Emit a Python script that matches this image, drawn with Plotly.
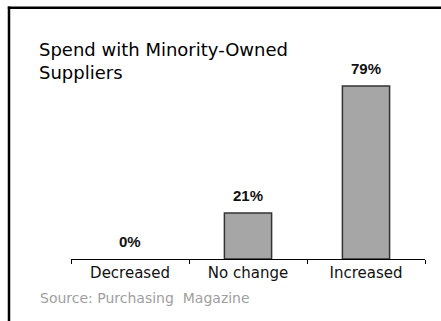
import plotly.graph_objects as go

categories = ["Decreased", "No change", "Increased"]
values = [0, 21, 79]
value_labels = ["0%", "21%", "79%"]
title_text = "Spend with Minority-Owned<br>Suppliers"
source_text = "Source: Purchasing  Magazine"

W, H = 441, 321
ml, mr, mt, mb = 71, 16, 40, 62
PW, PH = W - ml - mr, H - mt - mb


def px_x(x):
    return (x - ml) / PW


def px_y(y):
    return (H - mb - y) / PH


fig = go.Figure(
    go.Bar(
        x=categories,
        y=values,
        marker=dict(
            color="#a6a6a6",
            line=dict(color="#333333", width=[1.5 if v > 0 else 0 for v in values]),
        ),
        width=0.4,
        hoverinfo="x+y",
    )
)

label_annotations = [
    dict(
        x=c, y=v, xref="x", yref="y",
        text="<b>%s</b>" % t,
        showarrow=False,
        xanchor="center", yanchor="bottom",
        yshift=7,
        font=dict(family="Liberation Sans, Arial", size=15, color="#111111"),
    )
    for c, v, t in zip(categories, values, value_labels)
]

fig.update_layout(
    width=W,
    height=H,
    margin=dict(l=ml, r=mr, t=mt, b=mb),
    paper_bgcolor="white",
    plot_bgcolor="white",
    showlegend=False,
    xaxis=dict(
        tickson="boundaries",
        ticks="outside",
        ticklen=4,
        tickcolor="black",
        tickwidth=1,
        showline=True,
        linecolor="black",
        linewidth=1,
        showgrid=False,
        tickfont=dict(family="DejaVu Sans", size=15, color="#111111"),
    ),
    yaxis=dict(
        range=[0, 100],
        visible=False,
        showgrid=False,
        zeroline=False,
    ),
    annotations=label_annotations + [
        dict(
            text=title_text,
            xref="paper", yref="paper",
            x=px_x(37), y=px_y(37),
            xanchor="left", yanchor="top",
            align="left",
            showarrow=False,
            font=dict(family="DejaVu Sans", size=18, color="black"),
        ),
        dict(
            text=source_text,
            xref="paper", yref="paper",
            x=px_x(38), y=px_y(298),
            xanchor="left", yanchor="middle",
            showarrow=False,
            font=dict(family="DejaVu Sans", size=14, color="#a0a0a0"),
        ),
    ],
    shapes=[
        dict(type="line", xref="paper", yref="paper",
             x0=px_x(9), x1=px_x(9), y0=px_y(6.5), y1=px_y(330),
             line=dict(color="black", width=2.5)),
        dict(type="line", xref="paper", yref="paper",
             x0=px_x(7.8), x1=px_x(450), y0=px_y(7.8), y1=px_y(7.8),
             line=dict(color="black", width=2.5)),
    ],
)

fig.write_html(
    "out.html",
    config={"displayModeBar": False},
    post_script="document.body.style.margin='0';document.body.style.overflow='hidden';",
)
